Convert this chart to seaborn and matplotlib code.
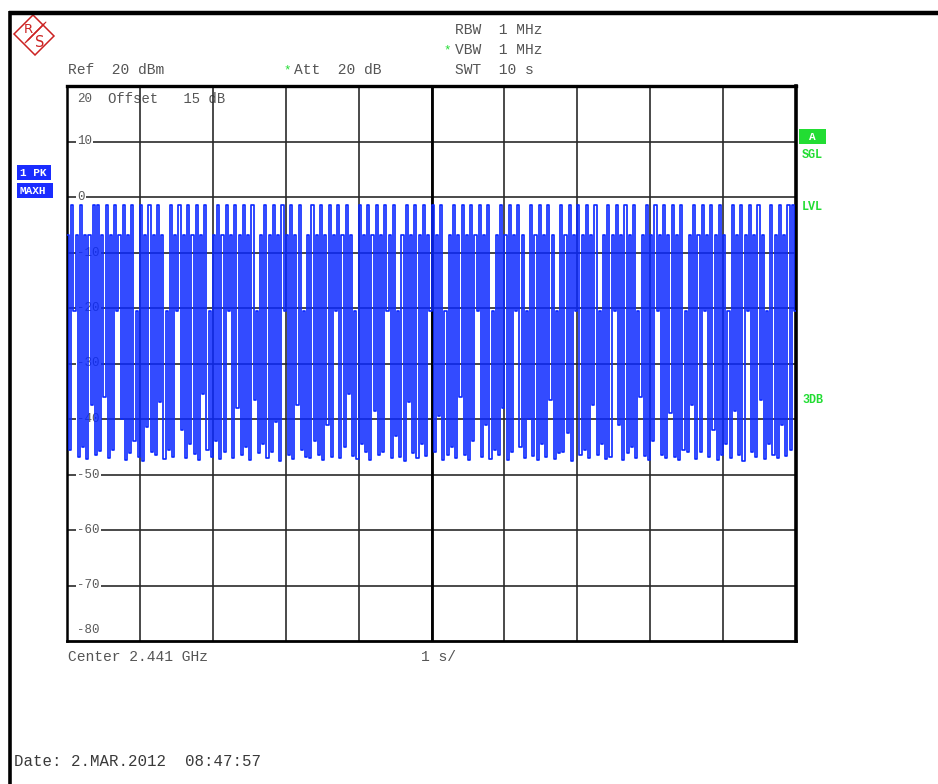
import numpy as np
import pandas as pd
import matplotlib
matplotlib.use("Agg")
import matplotlib.pyplot as plt
import matplotlib.patches as mpatches
import seaborn as sns

# ---------------- data ----------------
sweep_time_s = 10.0
ref_level_dbm = 20
bottom_level_dbm = -80
y_grid_levels = [10, 0, -10, -20, -30, -40, -50, -60, -70]
y_grid_labels = ["10", "0", "-10", "-20", "-30", "-40", "-50", "-60", "-70"]

# zero-span max-hold trace, levels in dBm, equally spaced over the sweep
trace_dbm = [
    -6.8, -45.5, -1.5, -20.5, -6.8, -46.8, -1.5, -45.0, -6.8, -47.2, -6.8, -37.5, -1.5, -46.5, -1.5, -45.8, -6.8, -36.0, -1.5, -47.0,
    -6.8, -45.5, -1.5, -20.5, -6.8, -40.0, -1.5, -47.3, -6.8, -46.2, -1.5, -44.0, -20.5, -46.8, -1.5, -47.5, -6.8, -41.5, -1.5, -46.0,
    -6.8, -46.5, -1.5, -37.0, -6.8, -47.2, -20.5, -45.5, -1.5, -46.8, -6.8, -20.5, -1.5, -42.0, -6.8, -47.0, -1.5, -44.5, -6.8, -46.3,
    -1.5, -47.4, -6.8, -35.5, -1.5, -45.5, -20.5, -46.8, -6.8, -44.0, -1.5, -47.2, -6.8, -46.0, -1.5, -20.5, -6.8, -47.0, -1.5, -38.0,
    -6.8, -46.5, -1.5, -45.0, -6.8, -47.3, -1.5, -36.5, -20.5, -46.2, -6.8, -44.5, -1.5, -47.0, -6.8, -46.0, -1.5, -40.5, -6.8, -47.5,
    -1.5, -20.5, -6.8, -46.5, -1.5, -47.2, -6.8, -37.5, -1.5, -45.5, -20.5, -46.8, -6.8, -47.0, -1.5, -44.0, -6.8, -46.4, -1.5, -47.3,
    -6.8, -41.0, -1.5, -46.8, -6.8, -20.5, -1.5, -47.0, -6.8, -45.0, -1.5, -35.5, -6.8, -46.6, -20.5, -47.2, -1.5, -44.5, -6.8, -46.0,
    -1.5, -47.4, -6.8, -38.5, -1.5, -46.5, -6.8, -46.0, -1.5, -20.5, -6.8, -47.1, -1.5, -43.0, -20.5, -46.8, -6.8, -47.5, -1.5, -37.0,
    -6.8, -46.2, -1.5, -47.0, -6.8, -44.5, -1.5, -46.6, -6.8, -20.5, -1.5, -46.0, -6.8, -39.5, -1.5, -47.3, -20.5, -46.5, -6.8, -45.0,
    -1.5, -47.0, -6.8, -36.0, -1.5, -46.4, -6.8, -47.4, -1.5, -44.0, -6.8, -20.5, -1.5, -46.8, -6.8, -41.0, -1.5, -47.2, -20.5, -45.5,
    -6.8, -46.5, -1.5, -38.0, -6.8, -47.4, -1.5, -46.0, -6.8, -20.5, -1.5, -45.0, -6.8, -47.0, -20.5, -40.0, -1.5, -46.6, -6.8, -47.3,
    -1.5, -44.5, -6.8, -46.8, -1.5, -36.5, -6.8, -47.2, -20.5, -46.2, -1.5, -46.0, -6.8, -42.5, -1.5, -47.5, -6.8, -20.5, -1.5, -46.5,
    -6.8, -45.5, -1.5, -47.0, -6.8, -37.5, -1.5, -46.4, -20.5, -44.5, -6.8, -47.2, -1.5, -46.8, -6.8, -20.5, -1.5, -41.0, -6.8, -47.4,
    -1.5, -46.2, -6.8, -45.0, -1.5, -47.0, -20.5, -36.0, -6.8, -46.6, -1.5, -47.3, -6.8, -44.0, -1.5, -20.5, -6.8, -46.5, -1.5, -47.1,
    -6.8, -39.0, -1.5, -46.8, -6.8, -47.4, -1.5, -45.5, -20.5, -46.0, -6.8, -37.5, -1.5, -47.2, -6.8, -46.0, -1.5, -20.5, -6.8, -46.8,
    -1.5, -42.0, -6.8, -47.3, -1.5, -46.5, -6.8, -44.5, -20.5, -47.0, -1.5, -38.5, -6.8, -46.4, -1.5, -47.5, -6.8, -20.5, -1.5, -46.0,
    -6.8, -46.8, -1.5, -36.5, -6.8, -47.2, -20.5, -44.5, -1.5, -46.5, -6.8, -47.0, -1.5, -41.0, -6.8, -46.6, -1.5, -45.5, -1.5, -20.5,
]

header_right = ["RBW  1 MHz", "VBW  1 MHz", "SWT  10 s"]
ref_text = "Ref  20 dBm"
att_text = "Att  20 dB"
offset_text = "Offset   15 dB"
center_text = "Center 2.441 GHz"
span_text = "1 s/"
date_text = "Date: 2.MAR.2012  08:47:57"

# ---------------- style ----------------
sns.set_style("white")
plt.rcParams["font.family"] = ["Liberation Mono", "DejaVu Sans Mono"]

W, H = 938, 784
fig = plt.figure(figsize=(W / 100, H / 100), dpi=100)
fig.patch.set_facecolor("white")

L, R, T, B = 67, 796, 86, 641
ax = fig.add_axes([L / W, 1 - B / H, (R - L) / W, (B - T) / H])

n = len(trace_dbm)
t = np.arange(n + 1) * sweep_time_s / n
lv = list(trace_dbm) + [trace_dbm[-1]]
df = pd.DataFrame({"time_s": t, "level_dbm": lv})

ax.set_xlim(0, sweep_time_s)
ax.set_ylim(bottom_level_dbm, ref_level_dbm)
ax.set_xticks(np.arange(1, 10))
ax.set_yticks(y_grid_levels)
ax.tick_params(length=0, labelleft=False, labelbottom=False)
ax.set_axisbelow(True)
ax.grid(True, color="#2a2a2a", linewidth=1.2)
ax.axvline(5, color="black", linewidth=2.0, zorder=1)
for side, lw in [("left", 1.8), ("bottom", 2.0), ("top", 2.4), ("right", 2.6)]:
    ax.spines[side].set_color("black")
    ax.spines[side].set_linewidth(lw)

sns.lineplot(data=df, x="time_s", y="level_dbm", ax=ax, estimator=None, sort=False,
             drawstyle="steps-post", color="#0a28ff", linewidth=1.2, zorder=3)
ax.set_xlabel("")
ax.set_ylabel("")

grey = "#555555"
lab_x = 10 / (R - L)
for lvl, lab in zip(y_grid_levels, y_grid_labels):
    ax.text(lab_x, lvl, lab, transform=ax.get_yaxis_transform(), fontsize=9,
            color="#5a5a5a", va="center", ha="left", zorder=2,
            bbox=dict(facecolor="white", edgecolor="none", pad=1.0))
ax.text(lab_x, -78.0, "-80", transform=ax.get_yaxis_transform(), fontsize=9,
        color="#5a5a5a", va="center", ha="left", zorder=2)
ax.text(lab_x, 17.7, "20", transform=ax.get_yaxis_transform(), fontsize=9,
        color="#5a5a5a", va="center", ha="left", zorder=2)
ax.text((108 - L) / (R - L), 17.7, offset_text, transform=ax.get_yaxis_transform(),
        fontsize=10, color=grey, va="center", ha="left", zorder=0.5)

# ---------------- overlay in pixel coordinates ----------------
ov = fig.add_axes([0, 0, 1, 1], zorder=5)
ov.set_xlim(0, W)
ov.set_ylim(H, 0)
ov.axis("off")
ov.patch.set_alpha(0)

# outer frame
ov.plot([9, W], [13, 13], color="black", linewidth=3.2, solid_capstyle="butt")
ov.plot([10, 10], [11, H], color="black", linewidth=2.6, solid_capstyle="butt")

# R&S logo
red = "#cc2222"
ov.add_patch(mpatches.Polygon([(14, 34), (33, 15), (54, 36), (35, 55)], closed=True,
                              fill=False, edgecolor=red, linewidth=1.1))
for k in range(4):
    d = k * 1.3
    ov.plot([25 + d, 42 + d], [43 - d, 26 - d], color=red, linewidth=0.8)
ov.text(28, 29, "R", color=red, fontsize=9.5, ha="center", va="center", family=["DejaVu Sans"])
ov.text(40, 42, "S", color=red, fontsize=10.5, ha="center", va="center", family=["DejaVu Sans"])

green = "#22dd33"
fs = 10.5
ov.text(455, 30, header_right[0], fontsize=fs, color=grey, va="center", ha="left")
ov.text(443, 50, "*", fontsize=9, color=green, va="center", ha="left")
ov.text(455, 50, header_right[1], fontsize=fs, color=grey, va="center", ha="left")
ov.text(455, 70, header_right[2], fontsize=fs, color=grey, va="center", ha="left")
ov.text(68, 70, ref_text, fontsize=fs, color=grey, va="center", ha="left")
ov.text(283, 70, "*", fontsize=9, color=green, va="center", ha="left")
ov.text(294, 70, att_text, fontsize=fs, color=grey, va="center", ha="left")
ov.text(68, 657, center_text, fontsize=fs, color=grey, va="center", ha="left")
ov.text(421, 657, span_text, fontsize=fs, color=grey, va="center", ha="left")
ov.text(14, 761, date_text, fontsize=11.3, color="#3a3a3a", va="center", ha="left")

# right-side status
ov.add_patch(mpatches.Rectangle((799, 129), 27, 15, facecolor=green, edgecolor="none"))
ov.text(812.5, 137, "A", fontsize=8, color="white", weight="bold", ha="center", va="center")
for y, s in [(155, "SGL"), (207, "LVL"), (400, "3DB")]:
    ov.text(802, y, s, fontsize=8.5, color=green, weight="bold", ha="left", va="center")

# left trace status
blue = "#1a2cff"
ov.add_patch(mpatches.Rectangle((17, 165), 34, 15, facecolor=blue, edgecolor="none"))
ov.text(20, 173, "1 PK", fontsize=8, color="white", weight="bold", ha="left", va="center")
ov.add_patch(mpatches.Rectangle((17, 183), 36, 15, facecolor=blue, edgecolor="none"))
ov.text(19, 191, "MAXH", fontsize=8, color="white", weight="bold", ha="left", va="center")

fig.savefig("out.png", dpi=100, facecolor="white")
